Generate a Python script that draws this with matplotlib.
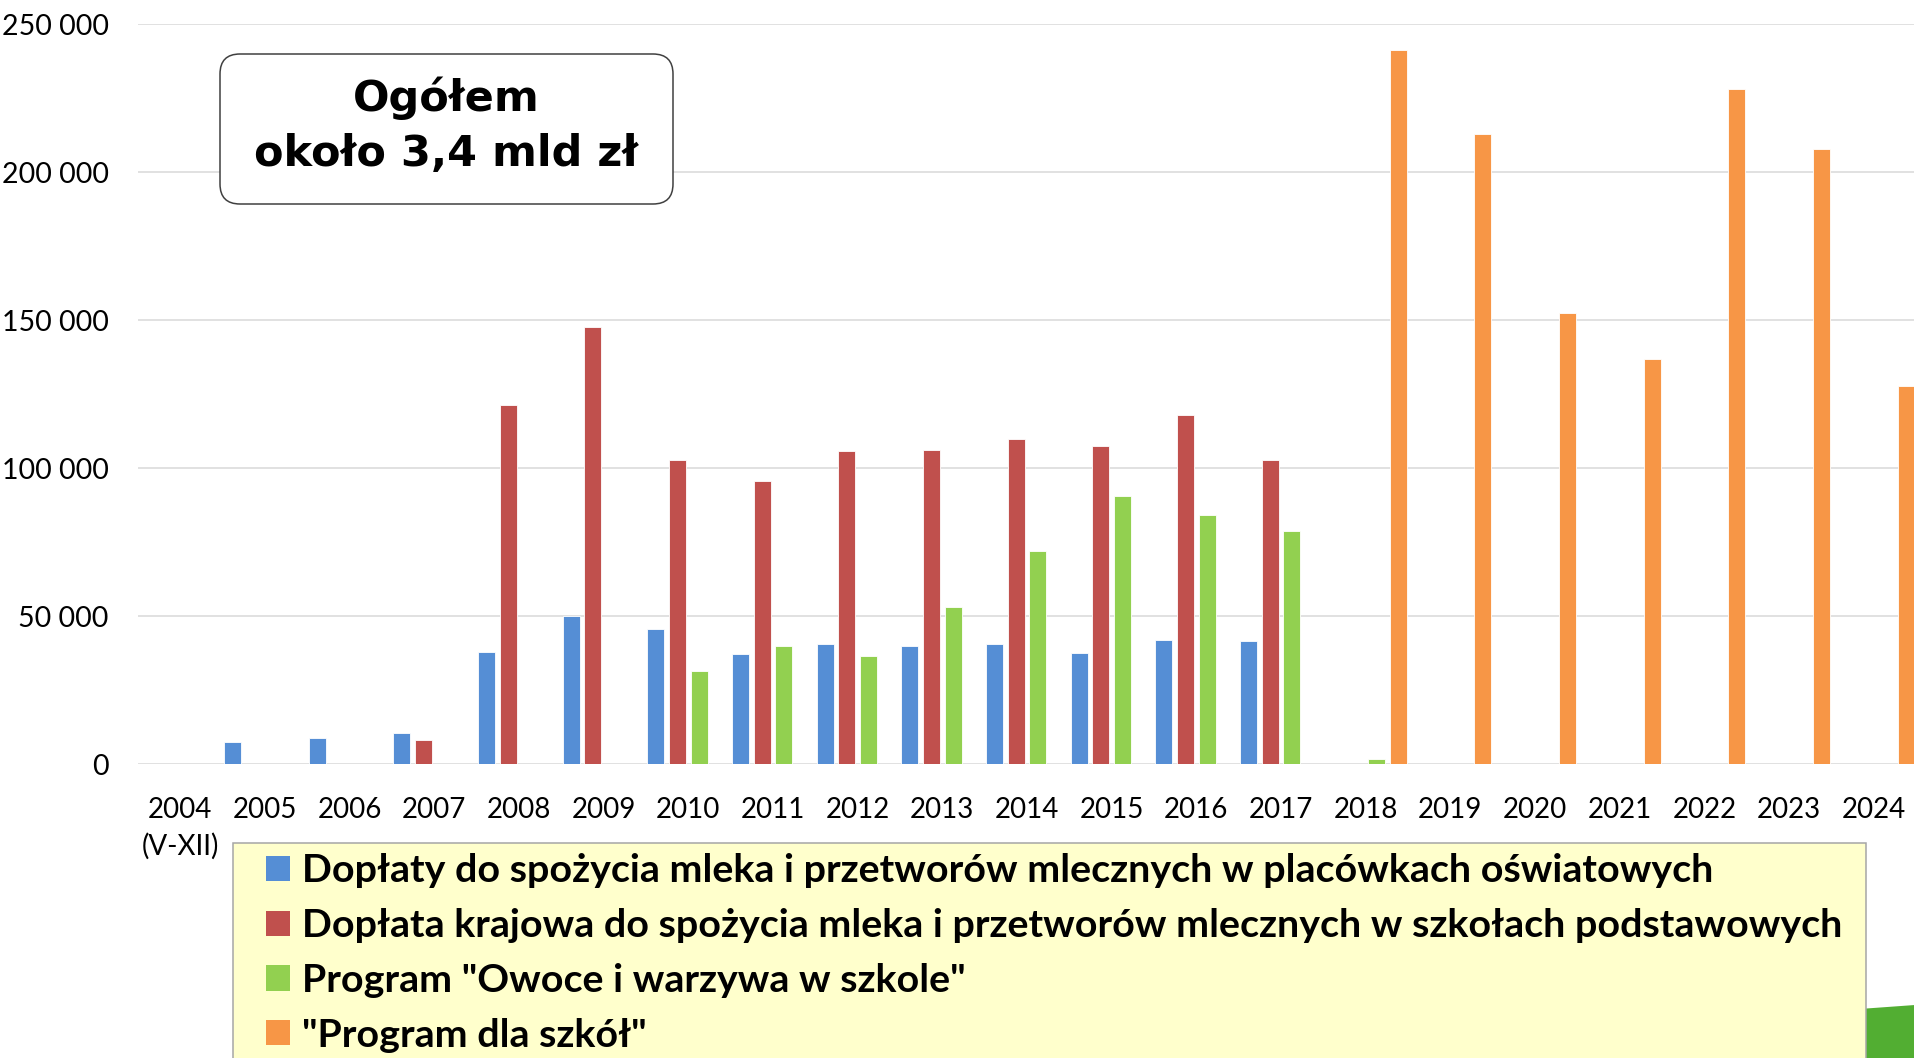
import numpy as np
import matplotlib
matplotlib.use("Agg")
from matplotlib import pyplot as plt
from matplotlib.patches import Patch, Rectangle, FancyBboxPatch, Polygon

plt.rcParams['font.family'] = ['Lato', 'DejaVu Sans']

# data (tys. zł)
years = ["2004\n(V-XII)", "2005", "2006", "2007", "2008", "2009", "2010", "2011",
         "2012", "2013", "2014", "2015", "2016", "2017", "2018", "2019", "2020",
         "2021", "2022", "2023", "2024"]
doplaty = [0, 7700, 8800, 10600, 38100, 50100, 45800, 37200, 40500, 39900,
           40500, 37600, 41900, 41800, 0, 0, 0, 0, 0, 0, 0]
krajowa = [0, 0, 0, 8200, 121300, 147700, 102800, 95700, 105900, 106100,
           109900, 107600, 118000, 102900, 0, 0, 0, 0, 0, 0, 0]
owoce = [0, 0, 0, 0, 0, 0, 31600, 40100, 36500, 53200, 71900, 90600, 84200,
         78900, 1800, 0, 0, 0, 0, 0, 0]
program = [0, 0, 0, 0, 0, 0, 0, 0, 0, 0, 0, 0, 0, 0, 241300, 212900, 152600,
           136800, 228200, 207800, 127800]

series_names = [
    "Dopłaty do spożycia mleka i przetworów mlecznych w placówkach oświatowych",
    "Dopłata krajowa do spożycia mleka i przetworów mlecznych w szkołach podstawowych",
    'Program "Owoce i warzywa w szkole"',
    '"Program dla szkół"',
]
colors = ["#558ED5", "#C0504D", "#92D050", "#F79646"]
yticks = [0, 50000, 100000, 150000, 200000, 250000]
ytick_labels = ["0", "50 000", "100 000", "150 000", "200 000", "250 000"]

W, H = 1915, 1058
fig = plt.figure(figsize=(W / 100, H / 100), dpi=100)
ax = fig.add_axes([138 / W, (H - 764.3) / H, (1916 - 138) / W, 740 / H])

x = np.arange(len(years))
bar_w = 0.2
step = 0.256
for j, (vals, c) in enumerate(zip([doplaty, krajowa, owoce, program], colors)):
    v = np.array(vals, dtype=float)
    m = v > 0
    ax.bar(x[m] + (j - 1.5) * step, v[m], width=bar_w, color=c,
           edgecolor="white", linewidth=0.6, zorder=3)

ax.set_xlim(-0.5, 20.5)
ax.set_ylim(0, 250000)
ax.set_yticks(yticks)
ax.set_yticklabels(ytick_labels)
ax.set_xticks(x)
ax.set_xticklabels(years, linespacing=1.45)
ax.tick_params(axis="y", length=0, pad=21, labelsize=20.5)
ax.tick_params(axis="x", length=0, pad=23.5, labelsize=20)
ax.grid(axis="y", color="#D9D9D9", linewidth=1.1, zorder=0)
for s in ax.spines.values():
    s.set_visible(False)

# total box
inch = fig.dpi_scale_trans
box = FancyBboxPatch((2.20, (H - 204) / 100), 4.53, 1.50,
                     boxstyle="round,pad=0,rounding_size=0.2",
                     facecolor="white", edgecolor="#404040", linewidth=1.1,
                     transform=inch, zorder=5)
fig.add_artist(box)
fig.text(4.465, (H - 98) / 100, "Ogółem", transform=inch, ha="center",
         va="center", fontsize=31, fontweight="bold", family="DejaVu Sans",
         zorder=6)
fig.text(4.465, (H - 154) / 100, "około 3,4 mld zł", transform=inch,
         ha="center", va="center", fontsize=31, fontweight="bold",
         family="DejaVu Sans", zorder=6)

# green decoration in the corner
fig.add_artist(Polygon([(17.9, (H - 1014) / 100), (19.15, (H - 1005) / 100),
                        (19.15, 0), (17.9, 0)], closed=True,
                       facecolor="#52AE32", edgecolor="none",
                       transform=inch, zorder=1))

# legend box
fig.add_artist(Rectangle((2.333, -0.5), 18.66 - 2.333, (H - 842.7) / 100 + 0.5,
                         facecolor="#FFFFCC", edgecolor="#A6A6A6",
                         linewidth=1.1, transform=inch, zorder=2))

F = 28.35
handles = [Patch(facecolor=c, edgecolor="none") for c in colors]
leg = fig.legend(handles, series_names, loc="upper left",
                 bbox_to_anchor=(2.66, (H - 853.5) / 100),
                 bbox_transform=inch, frameon=False, borderpad=0,
                 borderaxespad=0, handlelength=24 / (F * 1.389),
                 handleheight=24 / (F * 1.389),
                 handletextpad=11.7 / (F * 1.389), labelspacing=0.5,
                 prop={"weight": "bold", "size": F})
leg.set_zorder(4)

fig.savefig("out.png", dpi=100)
